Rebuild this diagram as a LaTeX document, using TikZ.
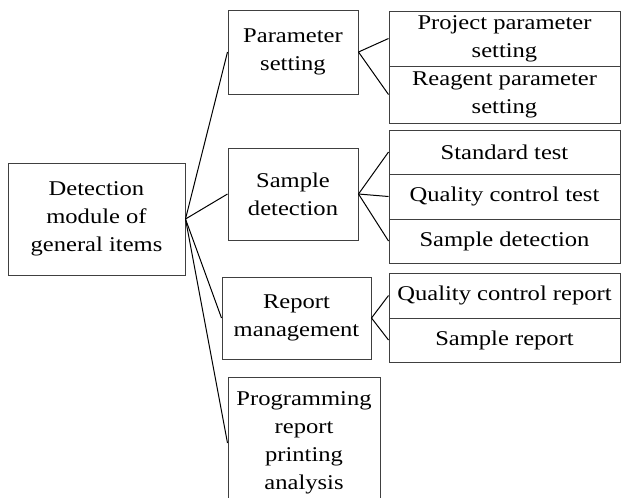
\documentclass[tikz,border=0pt]{standalone}
\usepackage{fontspec}
\setmainfont{Liberation Serif}[FakeStretch=1.17]
\begin{document}
\begin{tikzpicture}[x=0.75pt,y=-0.75pt,line width=0.75pt,
  box/.style={draw=black!75,align=center,inner sep=0pt,font=\fontsize{15.75pt}{21pt}\selectfont},
  boxsize/.style 2 args={minimum width=#1*0.75pt,minimum height=#2*0.75pt}]
  \clip (0,0) rectangle (621,497);

  \node[box,boxsize={177}{112}] (root) at (96.5,219) {Detection\\module of\\general items};

  \node[box,boxsize={130}{84}]  (par)  at (293,52)    {Parameter\\setting};
  \node[box,boxsize={130}{92}]  (sam)  at (293,194)   {Sample\\detection};
  \node[box,boxsize={149}{82}]  (rep)  at (296.5,318) {Report\\management};
  \node[box,boxsize={152}{132}] (prog) at (304,443)   {Programming\\report\\printing\\analysis};

  \node[box,boxsize={231}{55}] (pp) at (504.5,38.5)  {Project parameter\\setting};
  \node[box,boxsize={231}{57}] (rp) at (504.5,94.5)  {Reagent parameter\\setting};
  \node[box,boxsize={231}{44}] (st) at (504.5,152)   {Standard test};
  \node[box,boxsize={231}{45}] (qc) at (504.5,196.5) {Quality control test};
  \node[box,boxsize={231}{44}] (sd) at (504.5,241)   {Sample detection};
  \node[box,boxsize={231}{45}] (qr) at (504.5,295.5) {Quality control report};
  \node[box,boxsize={231}{44}] (sr) at (504.5,340)   {Sample report};

  \draw (root.east) -- (par.west);
  \draw (root.east) -- (sam.west);
  \draw (root.east) -- (rep.west);
  \draw (root.east) -- (prog.west);

  \draw (par.east) -- (pp.west);
  \draw (par.east) -- (rp.west);
  \draw (sam.east) -- (st.west);
  \draw (sam.east) -- (qc.west);
  \draw (sam.east) -- (sd.west);
  \draw (rep.east) -- (qr.west);
  \draw (rep.east) -- (sr.west);
\end{tikzpicture}
\end{document}
